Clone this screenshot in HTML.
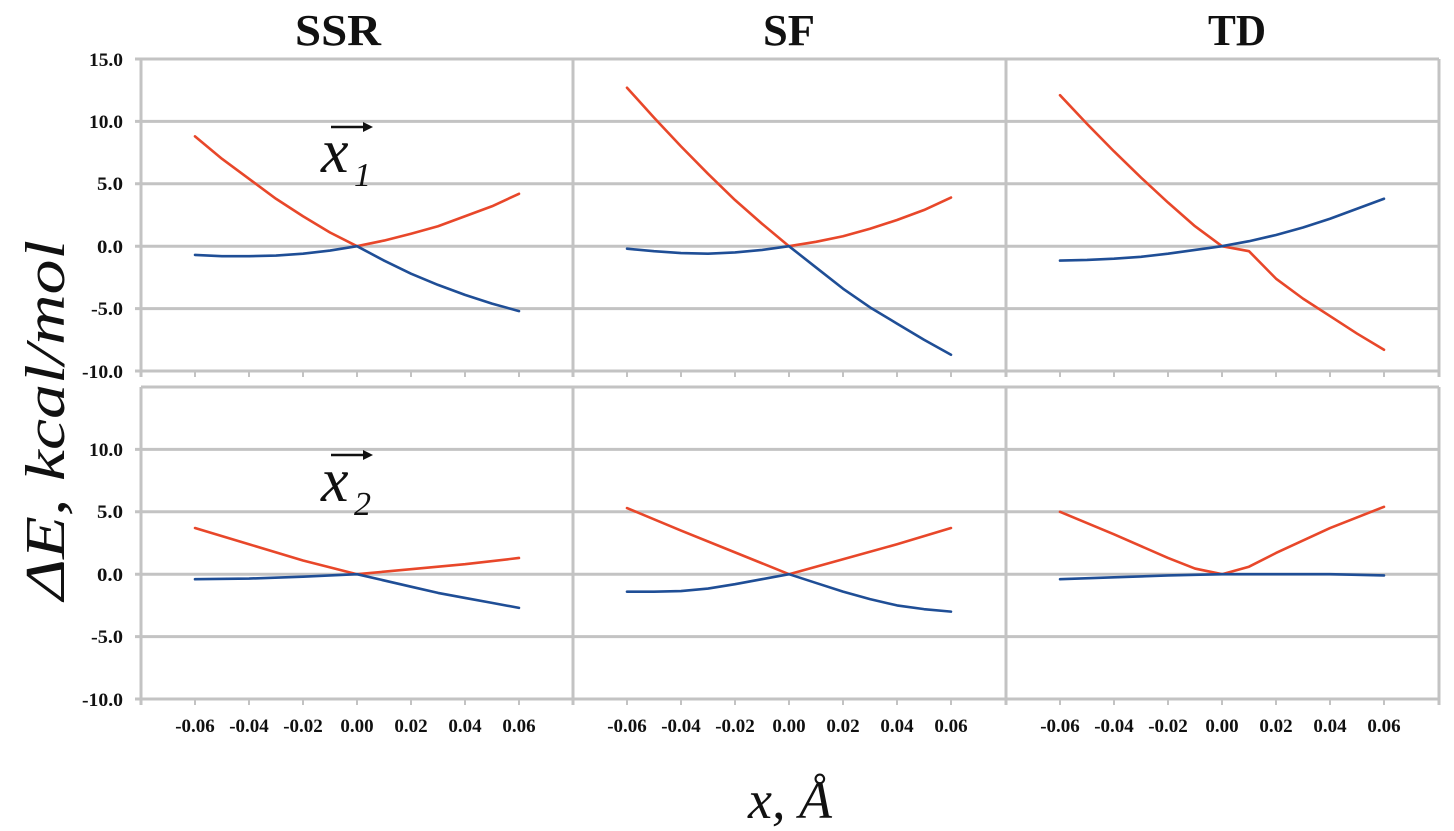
<!DOCTYPE html>
<html><head><meta charset="utf-8"><style>
html,body{margin:0;padding:0;background:#fff;}
svg{display:block;}
.t{font-family:"Liberation Serif",serif;font-weight:bold;font-size:19px;fill:#111;}
.h{font-family:"Liberation Serif",serif;font-weight:bold;font-size:44px;fill:#111;}
.i{font-family:"Liberation Serif",serif;font-style:italic;fill:#111;}
</style></head><body>
<svg width="1454" height="831" viewBox="0 0 1454 831" xmlns="http://www.w3.org/2000/svg">
<g stroke="#c3c3c3" stroke-width="3" fill="none">
<line x1="135" y1="59" x2="1439" y2="59"/>
<line x1="135" y1="121.4" x2="1439" y2="121.4"/>
<line x1="135" y1="183.8" x2="1439" y2="183.8"/>
<line x1="135" y1="246.2" x2="1439" y2="246.2"/>
<line x1="135" y1="308.6" x2="1439" y2="308.6"/>
<line x1="135" y1="371" x2="1439" y2="371"/>
<line x1="141" y1="387" x2="1439" y2="387"/>
<line x1="135" y1="449.4" x2="1439" y2="449.4"/>
<line x1="135" y1="511.8" x2="1439" y2="511.8"/>
<line x1="135" y1="574.2" x2="1439" y2="574.2"/>
<line x1="135" y1="636.6" x2="1439" y2="636.6"/>
<line x1="135" y1="699" x2="1439" y2="699"/>
<line x1="141" y1="59" x2="141" y2="377"/><line x1="573" y1="59" x2="573" y2="377"/>
<line x1="1006" y1="59" x2="1006" y2="377"/><line x1="1439" y1="59" x2="1439" y2="377"/>
<line x1="141" y1="387" x2="141" y2="705"/><line x1="573" y1="387" x2="573" y2="705"/>
<line x1="1006" y1="387" x2="1006" y2="705"/><line x1="1439" y1="387" x2="1439" y2="705"/>
</g>
<g stroke="#c3c3c3" stroke-width="2">
<path d="M195 371v6M249 371v6M303 371v6M357 371v6M411 371v6M465 371v6M519 371v6
M627 371v6M681 371v6M735 371v6M789 371v6M843 371v6M897 371v6M951 371v6
M1060 371v6M1114 371v6M1168 371v6M1222 371v6M1276 371v6M1330 371v6M1384 371v6
M195 699v6M249 699v6M303 699v6M357 699v6M411 699v6M465 699v6M519 699v6
M627 699v6M681 699v6M735 699v6M789 699v6M843 699v6M897 699v6M951 699v6
M1060 699v6M1114 699v6M1168 699v6M1222 699v6M1276 699v6M1330 699v6M1384 699v6"/>
</g>
<g class="t" text-anchor="end">
<text x="123" y="66" textLength="34" lengthAdjust="spacingAndGlyphs">15.0</text>
<text x="123" y="128" textLength="34" lengthAdjust="spacingAndGlyphs">10.0</text>
<text x="123" y="190" textLength="26" lengthAdjust="spacingAndGlyphs">5.0</text>
<text x="123" y="253" textLength="26" lengthAdjust="spacingAndGlyphs">0.0</text>
<text x="123" y="315" textLength="32" lengthAdjust="spacingAndGlyphs">-5.0</text>
<text x="123" y="378" textLength="41" lengthAdjust="spacingAndGlyphs">-10.0</text>
<text x="123" y="456" textLength="34" lengthAdjust="spacingAndGlyphs">10.0</text>
<text x="123" y="518" textLength="26" lengthAdjust="spacingAndGlyphs">5.0</text>
<text x="123" y="581" textLength="26" lengthAdjust="spacingAndGlyphs">0.0</text>
<text x="123" y="643" textLength="32" lengthAdjust="spacingAndGlyphs">-5.0</text>
<text x="123" y="706" textLength="41" lengthAdjust="spacingAndGlyphs">-10.0</text>
</g>
<g class="t" text-anchor="middle">
<text x="195" y="732">-0.06</text><text x="249" y="732">-0.04</text><text x="303" y="732">-0.02</text><text x="357" y="732">0.00</text><text x="411" y="732">0.02</text><text x="465" y="732">0.04</text><text x="519" y="732">0.06</text>
<text x="627" y="732">-0.06</text><text x="681" y="732">-0.04</text><text x="735" y="732">-0.02</text><text x="789" y="732">0.00</text><text x="843" y="732">0.02</text><text x="897" y="732">0.04</text><text x="951" y="732">0.06</text>
<text x="1060" y="732">-0.06</text><text x="1114" y="732">-0.04</text><text x="1168" y="732">-0.02</text><text x="1222" y="732">0.00</text><text x="1276" y="732">0.02</text><text x="1330" y="732">0.04</text><text x="1384" y="732">0.06</text>
</g>
<g class="h" text-anchor="middle">
<text x="338" y="45" textLength="86" lengthAdjust="spacingAndGlyphs">SSR</text>
<text x="789" y="45" textLength="52" lengthAdjust="spacingAndGlyphs">SF</text>
<text x="1237" y="45" textLength="58" lengthAdjust="spacingAndGlyphs">TD</text>
</g>
<text class="i" font-size="56" text-anchor="middle" textLength="360" lengthAdjust="spacingAndGlyphs" transform="translate(64,420) rotate(-90)">ΔE, kcal/mol</text>
<text class="i" font-size="54" x="790" y="818" text-anchor="middle">x, Å</text>
<text class="i" font-size="62" x="321" y="172">x</text><text class="i" font-size="34" x="354" y="186">1</text>
<path d="M331 127h34" stroke="#111" stroke-width="2.5"/><path d="M373 127l-10-5v10z" fill="#111"/>
<text class="i" font-size="62" x="321" y="501">x</text><text class="i" font-size="34" x="354" y="515">2</text>
<path d="M331 455h34" stroke="#111" stroke-width="2.5"/><path d="M373 455l-10-5v10z" fill="#111"/>
<g fill="none" stroke-width="2.6" stroke-linejoin="round" stroke-linecap="round">
<g transform="translate(357,246.2) scale(27,-12.48)">
<polyline vector-effect="non-scaling-stroke" stroke="#e8472a" points="-6,8.8 -5,7.0 -4,5.4 -3,3.8 -2,2.4 -1,1.1 0,0 1,0.45 2,1.0 3,1.6 4,2.4 5,3.2 6,4.2"/>
<polyline vector-effect="non-scaling-stroke" stroke="#1f4e96" points="-6,-0.7 -5,-0.8 -4,-0.8 -3,-0.75 -2,-0.6 -1,-0.35 0,0 1,-1.15 2,-2.2 3,-3.1 4,-3.9 5,-4.6 6,-5.2"/>
</g>
<g transform="translate(789,246.2) scale(27,-12.48)">
<polyline vector-effect="non-scaling-stroke" stroke="#e8472a" points="-6,12.7 -5,10.3 -4,8.0 -3,5.8 -2,3.7 -1,1.8 0,0 1,0.35 2,0.8 3,1.4 4,2.1 5,2.9 6,3.9"/>
<polyline vector-effect="non-scaling-stroke" stroke="#1f4e96" points="-6,-0.2 -5,-0.4 -4,-0.55 -3,-0.6 -2,-0.5 -1,-0.3 0,0 1,-1.7 2,-3.4 3,-4.9 4,-6.2 5,-7.5 6,-8.7"/>
</g>
<g transform="translate(1222,246.2) scale(27,-12.48)">
<polyline vector-effect="non-scaling-stroke" stroke="#e8472a" points="-6,12.1 -5,9.8 -4,7.6 -3,5.5 -2,3.5 -1,1.6 0,0 1,-0.4 2,-2.6 3,-4.2 4,-5.6 5,-7.0 6,-8.3"/>
<polyline vector-effect="non-scaling-stroke" stroke="#1f4e96" points="-6,-1.15 -5,-1.1 -4,-1.0 -3,-0.85 -2,-0.6 -1,-0.3 0,0 1,0.4 2,0.9 3,1.5 4,2.2 5,3.0 6,3.8"/>
</g>
<g transform="translate(357,574.2) scale(27,-12.48)">
<polyline vector-effect="non-scaling-stroke" stroke="#e8472a" points="-6,3.7 -4,2.4 -2,1.1 0,0 2,0.4 4,0.8 6,1.3"/>
<polyline vector-effect="non-scaling-stroke" stroke="#1f4e96" points="-6,-0.4 -4,-0.35 -2,-0.2 0,0 1,-0.5 2,-1.0 3,-1.5 4,-1.9 5,-2.3 6,-2.7"/>
</g>
<g transform="translate(789,574.2) scale(27,-12.48)">
<polyline vector-effect="non-scaling-stroke" stroke="#e8472a" points="-6,5.3 -4,3.5 -2,1.75 0,0 2,1.2 4,2.4 6,3.7"/>
<polyline vector-effect="non-scaling-stroke" stroke="#1f4e96" points="-6,-1.4 -5,-1.4 -4,-1.35 -3,-1.15 -2,-0.8 -1,-0.4 0,0 1,-0.7 2,-1.4 3,-2.0 4,-2.5 5,-2.8 6,-3.0"/>
</g>
<g transform="translate(1222,574.2) scale(27,-12.48)">
<polyline vector-effect="non-scaling-stroke" stroke="#e8472a" points="-6,5.0 -4,3.2 -2,1.3 -1,0.45 0,0 1,0.6 2,1.7 4,3.7 6,5.4"/>
<polyline vector-effect="non-scaling-stroke" stroke="#1f4e96" points="-6,-0.4 -4,-0.25 -2,-0.1 0,0 2,0 4,0 6,-0.1"/>
</g>
</g>
</svg>
</body></html>
